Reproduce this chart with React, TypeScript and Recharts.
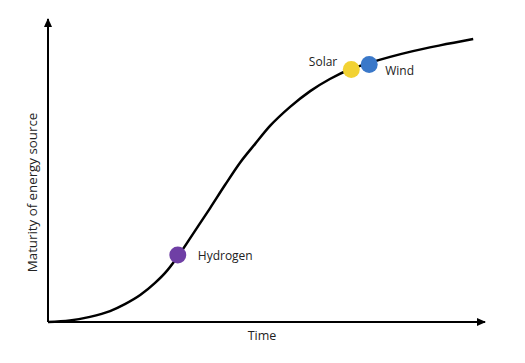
import { LineChart, Line, XAxis, YAxis, ReferenceLine, ReferenceDot } from "recharts";

// adoption curve (time 0-100, maturity 0-100)
const timeValues = [0, 5.0, 9.6, 14.2, 17.6, 21.1, 24.5, 26.8, 29.8, 33.6, 37.1, 40.5, 43.9, 47.4, 50.8, 55.4, 60.0, 64.5, 69.3, 73.5, 78.3, 83.5, 89.7, 97.3];
const maturityValues = [0, 0.5, 1.7, 3.6, 5.9, 8.9, 12.9, 16.2, 21.8, 30.0, 37.6, 45.2, 52.5, 58.8, 64.7, 71.0, 76.2, 80.2, 83.5, 85.5, 87.5, 89.4, 91.3, 93.4];

const techNames = ["Hydrogen", "Solar", "Wind"];
const techTime = [29.7, 69.4, 73.5];
const techMaturity = [22.1, 83.3, 85.0];
const techColors = ["#6f3fa5", "#f2d233", "#3a78c9"];

const curve = timeValues.map((t, i) => ({ t, m: maturityValues[i] }));

const font = "'Open Sans', 'Noto Sans', sans-serif";

// where each label sits relative to its dot
const labelPlace = [
  { dx: 20, dy: 0, anchor: "start" },
  { dx: -14, dy: -8, anchor: "end" },
  { dx: 16, dy: 6, anchor: "start" },
];

function TechDot(props: any, i: number) {
  const { cx, cy } = props;
  const p = labelPlace[i];
  return (
    <g>
      <circle cx={cx} cy={cy} r={8.5} fill={techColors[i]} />
      <text
        x={cx + p.dx}
        y={cy + p.dy}
        textAnchor={p.anchor}
        dominantBaseline="central"
        fontFamily={font}
        fontSize={12}
        fill="#222"
      >
        {techNames[i]}
      </text>
    </g>
  );
}

function ArrowRight(props: any) {
  const { cx, cy } = props;
  return <polygon points={`${cx + 1},${cy} ${cx - 8},${cy - 4} ${cx - 8},${cy + 4}`} fill="#000" />;
}

function ArrowUp(props: any) {
  const { cx, cy } = props;
  return <polygon points={`${cx},${cy - 1} ${cx - 4},${cy + 8} ${cx + 4},${cy + 8}`} fill="#000" />;
}

function TimeTitle(props: any) {
  const { x, y, width } = props.viewBox;
  return (
    <text x={x + width / 2 - 4.5} y={y + 13} textAnchor="middle" dominantBaseline="central" fontFamily={font} fontSize={12.5} fill="#222">
      Time
    </text>
  );
}

function MaturityTitle(props: any) {
  const { x, y, height } = props.viewBox;
  const cx = x - 16;
  const cy = y + height / 2 + 22;
  return (
    <text
      x={cx}
      y={cy}
      textAnchor="middle"
      dominantBaseline="central"
      transform={`rotate(-90, ${cx}, ${cy})`}
      fontFamily={font}
      fontSize={13.3}
      fill="#222"
    >
      Maturity of energy source
    </text>
  );
}

export default function App() {
  return (
    <div style={{ position: "absolute", left: 0, top: 0, background: "#fff" }}>
      <LineChart width={525} height={363} data={curve} margin={{ top: 19, right: 40, bottom: 41, left: 48 }}>
        <XAxis type="number" dataKey="t" domain={[0, 100]} hide />
        <YAxis type="number" domain={[0, 100]} hide />
        <ReferenceLine y={0} stroke="#000" strokeWidth={2} label={<TimeTitle />} />
        <ReferenceLine x={0} stroke="#000" strokeWidth={2} label={<MaturityTitle />} />
        <ReferenceDot x={100} y={0} r={4} shape={ArrowRight} ifOverflow="visible" />
        <ReferenceDot x={0} y={100} r={4} shape={ArrowUp} ifOverflow="visible" />
        <Line
          type="monotone"
          dataKey="m"
          stroke="#000"
          strokeWidth={2.5}
          dot={false}
          isAnimationActive={false}
        />
        {techNames.map((name, i) => (
          <ReferenceDot
            key={name}
            x={techTime[i]}
            y={techMaturity[i]}
            r={8.5}
            shape={(p: any) => TechDot(p, i)}
            ifOverflow="visible"
          />
        ))}
      </LineChart>
    </div>
  );
}
